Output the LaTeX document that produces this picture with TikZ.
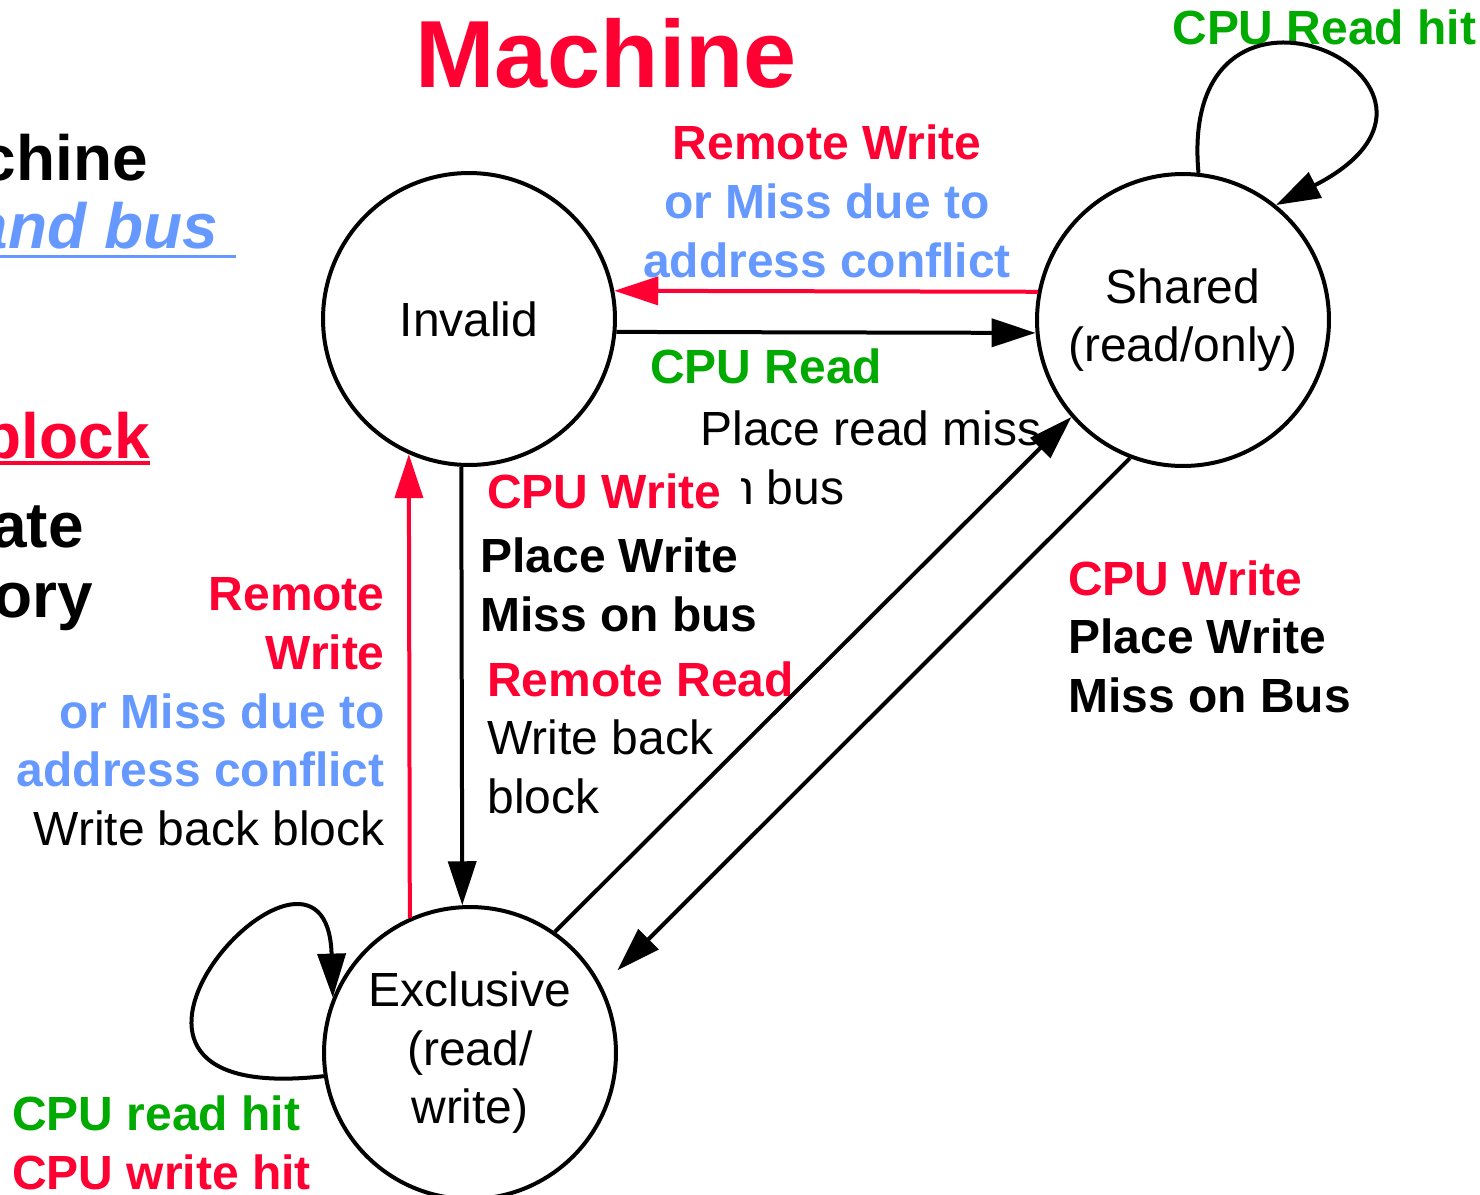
\documentclass[tikz,border=0pt]{standalone}
\usepackage{fontspec}
\setmainfont{Liberation Sans}
\usetikzlibrary{arrows.meta}
\definecolor{msired}{HTML}{FF0033}
\definecolor{msigreen}{HTML}{00AA00}
\definecolor{msiblue}{HTML}{6699FF}
\newcommand\lblsize{\fontsize{27.3}{33.3}\selectfont}
\newcommand\ttlsize{\fontsize{54.3}{60}\selectfont}
\newcommand\sidesize{\fontsize{36.4}{40}\selectfont}
% underline with a bar of given drop and thickness
\newcommand\ulbar[3]{\setbox0\hbox{#3}\rlap{\rule[-#1]{\wd0}{#2}}\box0}
\tikzset{
state/.style = {circle, draw, line width = 0.08cm, minimum size = 5.84cm,
   inner sep = 0pt, align = center, font = \lblsize},
txt/.style = {inner sep = 0pt, font = \lblsize},
sidetxt/.style = {inner sep = 0pt, font = \sidesize\bfseries, anchor = base east},
transition/.style = {-{Triangle[length = 0.88cm, width = 0.56cm]},
   line width = 0.08cm},
remote/.style = {transition, msired},
selfloop/.style = {transition}
}

\begin{document}
\begin{tikzpicture}[x = 0.02cm, y = -0.02cm]
\useasboundingbox (0, 0) rectangle (1480, 1194);

%% Title and cut-off side text
\node [inner sep = 0pt, font = \ttlsize\bfseries, text = msired, anchor = base]
   (ttl) at (606, 87) {Machine};
\node [sidetxt] (s1) at (148, 180) {chine};
\node [sidetxt, text = msiblue, font = \sidesize\bfseries\itshape] (s2) at (236, 248)
   {\ulbar{0.19cm}{0.06cm}{and bus\ }};
\node [sidetxt, text = msired] (s3) at (150, 458) {\ulbar{0.13cm}{0.08cm}{block}};
\node [sidetxt] (s4) at (84, 547) {ate};
\node [sidetxt] (s5) at (93, 617) {ory};

%% States
\node [state] (inv) at (469, 319) {Invalid};
\node [state] (shr) at (1183, 320) {Shared\\(read/only)};
\node [state] (exc) at (470, 1053) {Exclusive\\(read/\\write)};

%% Labels (base = last line)
\node [txt, font = \lblsize\bfseries, align = center, anchor = base] (l1) at (827, 277)
   {\textcolor{msired}{Remote Write}\\\textcolor{msiblue}{or Miss due to}\\
   \textcolor{msiblue}{address conflict}};
\node [txt, font = \lblsize\bfseries, text = msigreen, anchor = base west] (l2)
   at (650, 383) {CPU Read};
\node [txt, align = left, anchor = base west] (l3) at (700, 504)
   {Place read miss\\on bus};
\node [txt, font = \lblsize\bfseries, text = msired, fill = white, inner xsep = 0.4cm,
   inner ysep = 0.1cm, anchor = base west] (l4) at (467, 508) {CPU Write};
\node [txt, font = \lblsize\bfseries, align = left, anchor = base west] (l5)
   at (480, 631) {Place Write\\Miss on bus};
\node [txt, align = left, anchor = base west] (l6) at (487, 813)
   {\textcolor{msired}{\bfseries Remote Read}\\Write back\\block};
\node [txt, font = \lblsize\bfseries, align = left, anchor = base west] (l7)
   at (1068, 712) {\textcolor{msired}{CPU Write}\\Place Write\\Miss on Bus};
\node [txt, align = right, anchor = base east] (l8) at (385, 845)
   {\textcolor{msired}{\bfseries Remote}\\\textcolor{msired}{\bfseries Write}\\
   \textcolor{msiblue}{\bfseries or Miss due to}\\
   \textcolor{msiblue}{\bfseries address conflict}\\Write back block};
\node [txt, font = \lblsize\bfseries, text = msigreen, anchor = base west] (l9)
   at (1172, 44) {CPU Read hit};
\node [txt, font = \lblsize\bfseries, align = left, anchor = base west] (l10)
   at (12, 1189) {\textcolor{msigreen}{CPU read hit}\\\textcolor{msired}{CPU write hit}};

%% Transitions
\draw [remote] (shr.169) -- (inv.11);
\draw [transition] (inv.-5.5) -- (shr.185);
\draw [transition, shorten > = 0.44cm] (shr.249) -- (exc.27);
\draw [transition] (exc.55) -- (shr.221);
\draw [transition] (inv.267) -- (exc.93);
\draw [remote] (exc.114) -- (inv.246);

%% Self loops
\draw [selfloop] (shr.84) .. controls +(-22, -245) and +(235, -120) .. (shr.51);
\draw [selfloop] (exc.189) .. controls +(-300, 34) and +(-6, -216) .. (exc.158);

\end{tikzpicture}
\end{document}
